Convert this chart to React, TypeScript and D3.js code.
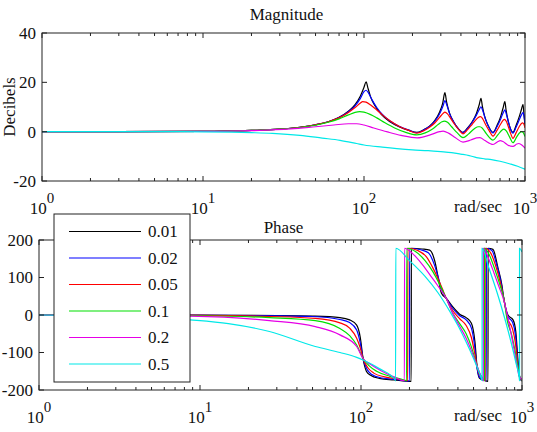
import React from 'react';
import * as d3 from 'd3';

type Pt = [number, number];

// damping ratios shown in the legend
const dampingLabels = ['0.01', '0.02', '0.05', '0.1', '0.2', '0.5'];
const seriesColors = ['#000000', '#0000ff', '#ff0000', '#00e000', '#e600e6', '#00e8e8'];

// magnitude (dB): [rad/sec, dB]
const mag001: Pt[] = [[1,0],[10,0.1],[20,0.5],[30,1],[40,1.8],[50,2.8],[60,4],[70,5.8],[80,8.3],[88,11],[95,14.5],[100,18],[103,20.2],[106,17.5],[110,14],[117,10.5],[128,7],[145,4],[165,2],[190,0.5],[213,-0.3],[235,0.8],[255,2.2],[275,4.5],[295,8],[308,11.5],[318,15.8],[326,12],[340,7.5],[360,4],[385,1.2],[412,-0.3],[440,1.5],[470,4],[500,7.5],[520,11],[533,13.5],[543,10.5],[560,6.5],[590,2.5],[633,-0.3],[670,2.5],[705,6],[730,9.5],[750,12.2],[762,9],[785,4.5],[812,1.2],[842,-0.3],[880,2.5],[920,6],[950,9],[972,11.1],[985,7],[1000,2.5]];
const mag002: Pt[] = [[1,0],[10,0.1],[20,0.5],[30,1],[40,1.8],[50,2.8],[60,4],[70,5.7],[80,8.1],[88,10.5],[95,13.5],[100,16.2],[103,16.8],[107,15.5],[112,13],[120,9.8],[130,7],[145,4.3],[165,2.2],[190,0.6],[213,-0.4],[235,0.7],[255,2.1],[275,4.2],[295,7.3],[310,10.5],[318,12.6],[326,11],[340,7.3],[360,4],[385,1.2],[412,-0.4],[440,1.3],[470,3.8],[500,6.8],[520,9],[533,10.1],[545,8.8],[565,5.5],[595,2],[633,-0.5],[670,2],[705,5],[730,7.5],[750,8.8],[765,7.2],[790,3.8],[815,0.8],[842,-0.6],[880,1.8],[920,4.7],[950,6.8],[970,7.7],[985,6.5],[1000,3.5]];
const mag005: Pt[] = [[1,0],[10,0.1],[20,0.5],[30,1],[40,1.8],[50,2.8],[60,4],[70,5.6],[80,7.8],[88,9.8],[95,11.6],[98,12.2],[103,12],[110,10.8],[120,8.8],[130,6.8],[145,4.4],[165,2.2],[190,0.5],[213,-0.6],[235,0.4],[255,1.8],[275,3.5],[295,5.8],[310,7.4],[318,7.9],[330,7.2],[345,5.4],[365,3],[390,0.6],[412,-0.9],[440,0.8],[470,3],[500,5.1],[520,6],[530,6.1],[545,5.3],[570,2.8],[600,0.3],[633,-1.8],[670,0.5],[705,3],[730,4.6],[745,5],[765,4.2],[790,1.8],[815,-0.8],[842,-2.7],[880,-0.5],[920,2],[950,3.3],[965,3.6],[985,3],[1000,1.5]];
const mag01: Pt[] = [[1,0],[10,0.1],[20,0.5],[30,1],[40,1.7],[50,2.6],[60,3.8],[70,5.2],[80,6.8],[88,7.8],[94,8.1],[100,7.9],[110,6.9],[120,5.6],[135,3.6],[155,1.5],[180,-0.2],[213,-1.3],[240,-0.5],[265,1],[290,3],[305,4],[315,4.3],[330,3.8],[350,2],[380,-0.5],[412,-2.4],[445,-1],[480,1],[510,2],[525,2],[545,1.3],[575,-0.8],[633,-3.4],[680,-1.2],[715,0.5],[740,1],[765,0.3],[800,-2],[842,-4.5],[890,-2],[930,-0.3],[955,0],[980,-0.6],[1000,-2]];
const mag02: Pt[] = [[1,0],[10,0.1],[20,0.4],[35,1.1],[50,2],[65,2.7],[80,3.2],[90,3.2],[100,2.7],[115,1.5],[140,-0.1],[170,-1.5],[214,-2.5],[260,-1.2],[295,0],[310,0.2],[335,-0.6],[370,-2.5],[412,-4.2],[460,-3.4],[500,-2.5],[525,-2.4],[560,-3.5],[633,-5.2],[680,-4],[700,-3.6],[730,-4],[780,-5.4],[842,-6],[890,-5],[915,-4.8],[960,-5.5],[1000,-6.7]];
const mag05: Pt[] = [[1,0],[5,0],[10,-0.05],[15,-0.2],[20,-0.4],[27,-0.7],[40,-1.5],[55,-2.6],[71,-3.5],[90,-4.8],[100,-5.4],[130,-6.3],[160,-6.9],[200,-7.4],[250,-7.7],[300,-8.1],[350,-8.5],[400,-9.1],[450,-9.7],[500,-10.5],[560,-11],[620,-11.3],[700,-12],[800,-13],[900,-14],[1000,-15.2]];

// phase (deg): [rad/sec, deg]
const ph001: Pt[] = [[1,0],[10,-0.5],[30,-1.5],[50,-3],[74,-7],[85,-13],[94,-27],[99,-60],[103,-116],[108,-150],[114,-160],[130,-169],[160,-173],[205,-177],[205.5,178],[240,176],[267,173],[288,142],[302,98],[316,58],[338,45],[371,22],[410,2],[450,-7],[485,-22],[510,-71],[527,-142],[545,-169],[580,-174],[615,-177],[616,178],[660,175],[710,125],[750,80],[770,45],[818,0],[880,-13],[915,-44],[945,-124],[972,-169],[1000,-176]];
const ph002: Pt[] = [[1,0],[10,-0.7],[30,-2],[50,-4],[74,-12],[85,-20],[94,-40],[99,-75],[103,-116],[109,-145],[116,-158],[135,-168],[165,-172],[200,-176],[200.5,178],[235,174],[262,166],[285,135],[302,100],[318,66],[338,45],[371,18],[410,-2],[450,-13],[485,-35],[507,-80],[525,-140],[545,-166],[575,-172],[600,-176],[601,178],[650,172],[700,130],[740,88],[770,45],[815,-3],[875,-20],[912,-55],[942,-125],[968,-166],[1000,-175]];
const ph005: Pt[] = [[1,0],[10,-1.2],[27,-4],[52,-9],[74,-21],[85,-35],[94,-62],[99,-88],[103,-116],[110,-140],[120,-155],[140,-165],[170,-171],[195,-175],[195.5,178],[225,172],[255,155],[280,125],[300,98],[320,70],[338,45],[371,12],[410,-10],[450,-28],[485,-60],[510,-105],[535,-150],[555,-166],[590,-175],[590.5,178],[640,165],[690,128],[735,85],[770,45],[812,-8],[870,-35],[910,-75],[940,-130],[965,-165],[1000,-174]];
const ph01: Pt[] = [[1,0],[10,-2],[27,-7],[52,-15],[74,-36],[85,-55],[94,-80],[103,-116],[112,-135],[125,-150],[150,-163],[175,-170],[192,-175],[192.5,178],[220,168],[250,145],[280,115],[305,85],[338,45],[371,5],[410,-23],[450,-50],[485,-85],[515,-123],[545,-155],[570,-168],[585,-175],[585.5,178],[630,158],[680,120],[730,80],[770,45],[810,-15],[865,-55],[905,-95],[940,-135],[962,-162],[1000,-174]];
const ph02: Pt[] = [[1,0],[8.7,-3],[27,-15],[52,-31],[74,-53],[94,-84],[103,-116],[115,-132],[135,-150],[160,-165],[186,-175],[186.5,178],[210,163],[240,135],[270,105],[300,78],[338,45],[371,5],[410,-30],[450,-62],[485,-95],[520,-130],[550,-158],[575,-175],[575.5,178],[620,150],[670,112],[720,75],[770,40],[810,0],[860,-55],[900,-100],[935,-140],[955,-160],[1000,-173]];
const ph05: Pt[] = [[1,0],[3,-2],[8.7,-13],[15,-23],[27,-44],[52,-84],[74,-100],[94,-113],[103,-120],[130,-143],[163,-173],[164,-176],[164.5,178],[200,145],[250,103],[300,60],[357,9],[400,-28],[450,-72],[500,-116],[559,-169],[565,-175],[565.5,178],[620,128],[700,60],[780,-8],[850,-68],[920,-130],[962,-169],[965,-175],[965.5,178],[1000,168]];

const magSeries = [mag001, mag002, mag005, mag01, mag02, mag05];
const phaseSeries = [ph001, ph002, ph005, ph01, ph02, ph05];

const magTicks = [-20, 0, 20, 40];
const phaseTicks = [-200, -100, 0, 100, 200];
const decades = [0, 1, 2, 3];

const FONT = 'Liberation Serif, DejaVu Serif, Noto Serif, Times, serif';

const minorFreqs: number[] = [];
[1, 10, 100].forEach(d => {
  for (let m = 2; m <= 9; m++) minorFreqs.push(d * m);
});

function Panel({ id, left, right, top, bottom, yDomain, yTicks, series, title, titleY, ylabel }: any) {
  const x = d3.scaleLog().domain([1, 1000]).range([left, right]);
  const y = d3.scaleLinear().domain(yDomain).range([bottom, top]);
  const line = d3.line<Pt>()
    .x(d => x(d[0]))
    .y(d => y(d[1]))
    .curve(d3.curveMonotoneX);

  return (
    <g>
      <clipPath id={id}>
        <rect x={left} y={top} width={right - left} height={bottom - top} />
      </clipPath>
      <rect x={left} y={top} width={right - left} height={bottom - top} fill="#fff" />
      <g clipPath={`url(#${id})`}>
        {series.map((s: Pt[], i: number) => (
          <path key={i} d={line(s) || ''} fill="none" stroke={seriesColors[i]} strokeWidth={1.2} />
        ))}
      </g>
      {/* frame and ticks */}
      <rect x={left} y={top} width={right - left} height={bottom - top} fill="none" stroke="#222" strokeWidth={1} />
      {minorFreqs.map(f => (
        <g key={f} stroke="#222" strokeWidth={1}>
          <line x1={x(f)} x2={x(f)} y1={bottom} y2={bottom - 3} />
          <line x1={x(f)} x2={x(f)} y1={top} y2={top + 3} />
        </g>
      ))}
      {decades.map(k => (
        <g key={k} stroke="#222" strokeWidth={1}>
          <line x1={x(10 ** k)} x2={x(10 ** k)} y1={bottom} y2={bottom - 5} />
          <line x1={x(10 ** k)} x2={x(10 ** k)} y1={top} y2={top + 5} />
        </g>
      ))}
      {yTicks.map((t: number) => (
        <g key={t}>
          <line x1={left} x2={left + 5} y1={y(t)} y2={y(t)} stroke="#222" />
          <line x1={right} x2={right - 5} y1={y(t)} y2={y(t)} stroke="#222" />
          <text x={left - 6} y={y(t)} dy="0.35em" textAnchor="end" fontSize={17} fontFamily={FONT} fill="#111">{t}</text>
        </g>
      ))}
      {decades.map(k => (
        <text key={k} x={x(10 ** k)} y={bottom + 33} textAnchor="middle" fontSize={17} fontFamily={FONT} fill="#111">
          10<tspan dy={-11} fontSize={15}>{k}</tspan>
        </text>
      ))}
      <text x={478} y={bottom + 31} textAnchor="middle" fontSize={17} fontFamily={FONT} fill="#111">rad/sec</text>
      <text x={(left + right) / 2 + 3} y={titleY} textAnchor="middle" fontSize={17} fontFamily={FONT} fill="#111">{title}</text>
      {ylabel && (
        <text transform={`translate(15,${(top + bottom) / 2}) rotate(-90)`} textAnchor="middle" fontSize={17} fontFamily={FONT} fill="#111">{ylabel}</text>
      )}
    </g>
  );
}

function Legend() {
  const lx = 54, ly = 214, lw = 136, lh = 168;
  const rowY = d3.scaleLinear().domain([0, 5]).range([231.5, 364]);
  return (
    <g>
      <rect x={lx} y={ly} width={lw} height={lh} fill="#fff" stroke="#222" strokeWidth={1} />
      {dampingLabels.map((lab, i) => (
        <g key={lab}>
          <line x1={69} x2={141} y1={rowY(i)} y2={rowY(i)} stroke={seriesColors[i]} strokeWidth={1.2} />
          <text x={148} y={rowY(i)} dy="0.35em" fontSize={17} fontFamily={FONT} fill="#111">{lab}</text>
        </g>
      ))}
    </g>
  );
}

export default function App() {
  return (
    <svg width={537} height={432} style={{ position: 'absolute', left: 0, top: 0, background: '#fff' }}>
      <rect width={537} height={432} fill="#fff" />
      <Panel id="clipMag" left={42} right={525} top={33} bottom={181} yDomain={[-20, 40]} yTicks={magTicks}
        series={magSeries} title="Magnitude" titleY={19.5} ylabel="Decibels" />
      <Panel id="clipPhase" left={39} right={522} top={240} bottom={390} yDomain={[-200, 200]} yTicks={phaseTicks}
        series={phaseSeries} title="Phase" titleY={232.5} />
      <Legend />
    </svg>
  );
}
